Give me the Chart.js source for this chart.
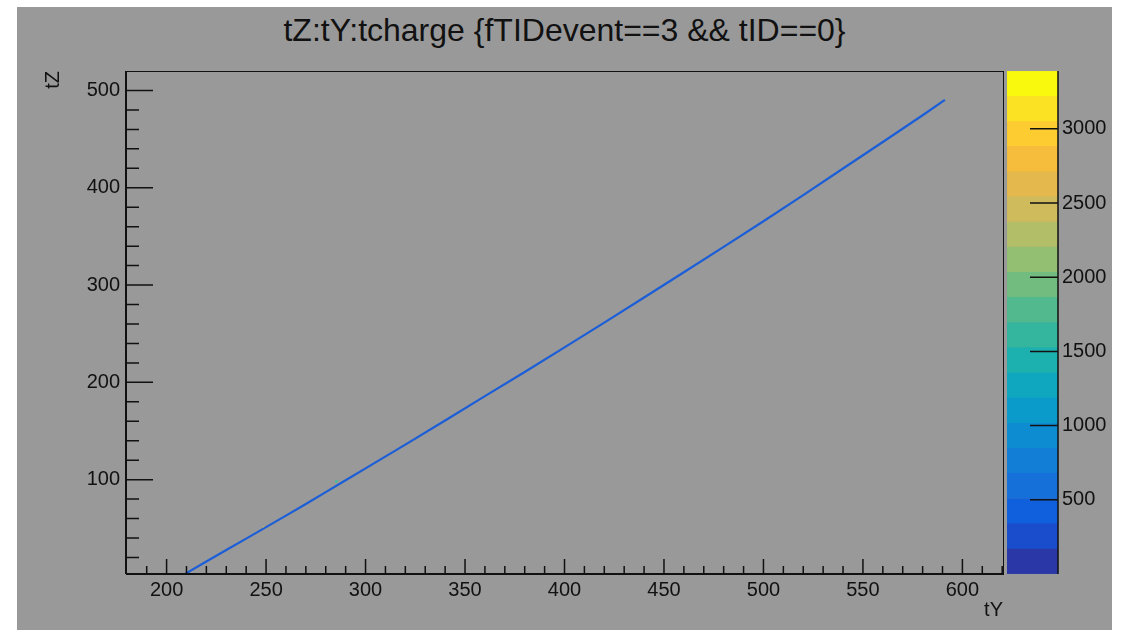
<!DOCTYPE html>
<html>
<head>
<meta charset="utf-8">
<script src="https://cdn.jsdelivr.net/npm/chart.js@4.4.1/dist/chart.umd.min.js"></script>
<style>
  body { margin: 0; background: #fff; }
  #pad { position: absolute; left: 17px; top: 7px; width: 1095px; height: 623px; background: #999999; overflow: hidden; }
  #title { position: absolute; left: 0; top: 7px; width: 1095px; text-align: center;
           font: 32px/32px "Liberation Sans", Arial, sans-serif; color: #111; }
  #main { position: absolute; left: 0; top: 0; }
  #palette { position: absolute; left: 990px; top: 0; }
</style>
</head>
<body>
<div id="pad">
  <div id="title">tZ:tY:tcharge {fTIDevent==3 &amp;&amp; tID==0}</div>
  <canvas id="main" width="1095" height="623"></canvas>
  <canvas id="palette" width="105" height="623"></canvas>
</div>
<script>
// track points (tY, tZ)
const trackY = [209.5, 220, 230, 240, 250, 260, 270, 280, 290, 300, 320, 340, 360, 380,
                400, 420, 440, 460, 480, 500, 520, 540, 560, 580, 591.2];
const trackZ = [3.4, 15.8, 27.6, 39.4, 51.2, 63.0, 75.0, 87.2, 99.4, 111.6, 136.0, 160.8, 185.8, 210.6,
                236.0, 261.4, 287.2, 313.2, 339.2, 365.6, 392.5, 419.8, 447.0, 474.5, 490.4];

// a couple of odd-coloured hits along the track
const hotY = [249.0, 285.3];
const hotZ = [50.6, 98.2];
const hotColor = ['#f2e21c', '#3cc19a'];

// axis ticks
const xTicks = [200, 250, 300, 350, 400, 450, 500, 550, 600];
const yTicks = [100, 200, 300, 400, 500];
const zTicks = [500, 1000, 1500, 2000, 2500, 3000];

// contour levels of the colour palette (20 bands)
const zEdges = [0, 170, 339, 509, 678, 848, 1017, 1187, 1356, 1526, 1695,
                1865, 2034, 2204, 2373, 2543, 2712, 2882, 3051, 3221, 3390];
const bandColors = ['#2a37a7', '#1a4dcc', '#1060de', '#1570da', '#137ed6', '#0e8cd2', '#0a9bcb',
                    '#0fa7bf', '#1cb0ae', '#34b59e', '#52b98e', '#72bc80', '#93bf73', '#b2bf68',
                    '#cfba5c', '#e4b84c', '#f5bd3b', '#fdcc30', '#fbe323', '#f9f90e'];

Chart.defaults.font.family = '"Liberation Sans", Arial, sans-serif';
Chart.defaults.color = '#111';

const tickFont = { size: 20 };
const titleFont = { size: 20 };
const plain = v => String(v);

// ROOT style: ticks drawn inside the frame
const insideTicks = {
  id: 'insideTicks',
  afterDraw(chart) {
    const { ctx, chartArea: a, scales: { x, y } } = chart;
    ctx.save();
    ctx.strokeStyle = '#111';
    ctx.lineWidth = 1;
    ctx.strokeRect(Math.round(a.left) + 0.5, Math.round(a.top) + 0.5,
                   Math.round(a.right - a.left), Math.round(a.bottom - a.top));
    ctx.lineWidth = 2;
    ctx.beginPath();
    ctx.moveTo(a.left, a.bottom); ctx.lineTo(a.right, a.bottom);
    ctx.moveTo(a.left, a.top); ctx.lineTo(a.left, a.bottom);
    ctx.stroke();
    ctx.lineWidth = 1.5;
    ctx.beginPath();
    for (let v = Math.ceil(x.min / 10) * 10; v < x.max; v += 10) {
      const px = x.getPixelForValue(v);
      if (px - a.left < 2) continue;
      const len = v % 50 === 0 ? 15 : 8;
      ctx.moveTo(px, a.bottom); ctx.lineTo(px, a.bottom - len);
    }
    for (let v = Math.ceil(y.min / 20) * 20; v < y.max; v += 20) {
      const py = y.getPixelForValue(v);
      if (py - a.top < 2) continue;
      const len = v % 100 === 0 ? 27 : 13;
      ctx.moveTo(a.left, py); ctx.lineTo(a.left + len, py);
    }
    ctx.stroke();
    ctx.restore();
  }
};

new Chart(document.getElementById('main'), {
  type: 'scatter',
  data: {
    datasets: [
      {
        data: trackY.map((v, i) => ({ x: v, y: trackZ[i] })),
        showLine: true,
        borderColor: '#1b5ed8',
        borderWidth: 2.2,
        pointRadius: 0,
        tension: 0
      },
      {
        data: hotY.map((v, i) => ({ x: v, y: hotZ[i] })),
        pointRadius: 1.3,
        pointBorderWidth: 0,
        pointBackgroundColor: hotColor
      }
    ]
  },
  options: {
    responsive: false,
    animation: false,
    layout: { padding: { left: 0, right: 109, top: 64, bottom: 0 } },
    plugins: { legend: { display: false }, tooltip: { enabled: false } },
    scales: {
      x: {
        type: 'linear',
        min: 179.6,
        max: 620.4,
        afterFit: s => { s.height = 56; },
        afterBuildTicks: s => { s.ticks = xTicks.map(v => ({ value: v })); },
        grid: { display: false, drawTicks: false },
        border: { display: false },
        ticks: { font: tickFont, padding: 4, maxRotation: 0, autoSkip: false, callback: plain },
        title: { display: true, text: 'tY', align: 'end', font: titleFont, padding: { top: 0, bottom: 8 } }
      },
      y: {
        type: 'linear',
        min: 3,
        max: 520,
        afterFit: s => { s.width = 109; },
        afterBuildTicks: s => { s.ticks = yTicks.map(v => ({ value: v })); },
        grid: { display: false, drawTicks: false },
        border: { display: false },
        ticks: { font: tickFont, padding: 6, autoSkip: false, callback: plain },
        title: { display: true, text: 'tZ', align: 'end', font: titleFont, padding: { top: 24, bottom: 0 } }
      }
    }
  },
  plugins: [insideTicks]
});

// colour palette axis with ticks pointing into the bar
const paletteTicks = {
  id: 'paletteTicks',
  afterDraw(chart) {
    const { ctx, chartArea: a, scales: { y } } = chart;
    ctx.save();
    ctx.strokeStyle = '#111';
    ctx.lineWidth = 1.5;
    ctx.beginPath();
    ctx.moveTo(a.right, a.top); ctx.lineTo(a.right, a.bottom);
    zTicks.forEach(v => {
      const py = y.getPixelForValue(v);
      ctx.moveTo(a.right - 28, py); ctx.lineTo(a.right, py);
    });
    ctx.stroke();
    ctx.restore();
  }
};

new Chart(document.getElementById('palette'), {
  type: 'bar',
  data: {
    labels: ['tcharge'],
    datasets: bandColors.map((c, i) => ({
      data: [[zEdges[i], zEdges[i + 1]]],
      backgroundColor: c,
      borderColor: c,
      borderWidth: 0.5,
      borderSkipped: false,
      grouped: false,
      barPercentage: 1,
      categoryPercentage: 1
    }))
  },
  options: {
    responsive: false,
    animation: false,
    layout: { padding: { left: 0, right: 0, top: 64, bottom: 56 } },
    plugins: { legend: { display: false }, tooltip: { enabled: false } },
    scales: {
      x: { display: false },
      y: {
        position: 'right',
        min: 0,
        max: 3390,
        afterFit: s => { s.width = 54; },
        afterBuildTicks: s => { s.ticks = zTicks.map(v => ({ value: v })); },
        grid: { display: false, drawTicks: false },
        border: { display: false },
        ticks: { font: tickFont, padding: 4, autoSkip: false, callback: plain }
      }
    }
  },
  plugins: [paletteTicks]
});
</script>
</body>
</html>
